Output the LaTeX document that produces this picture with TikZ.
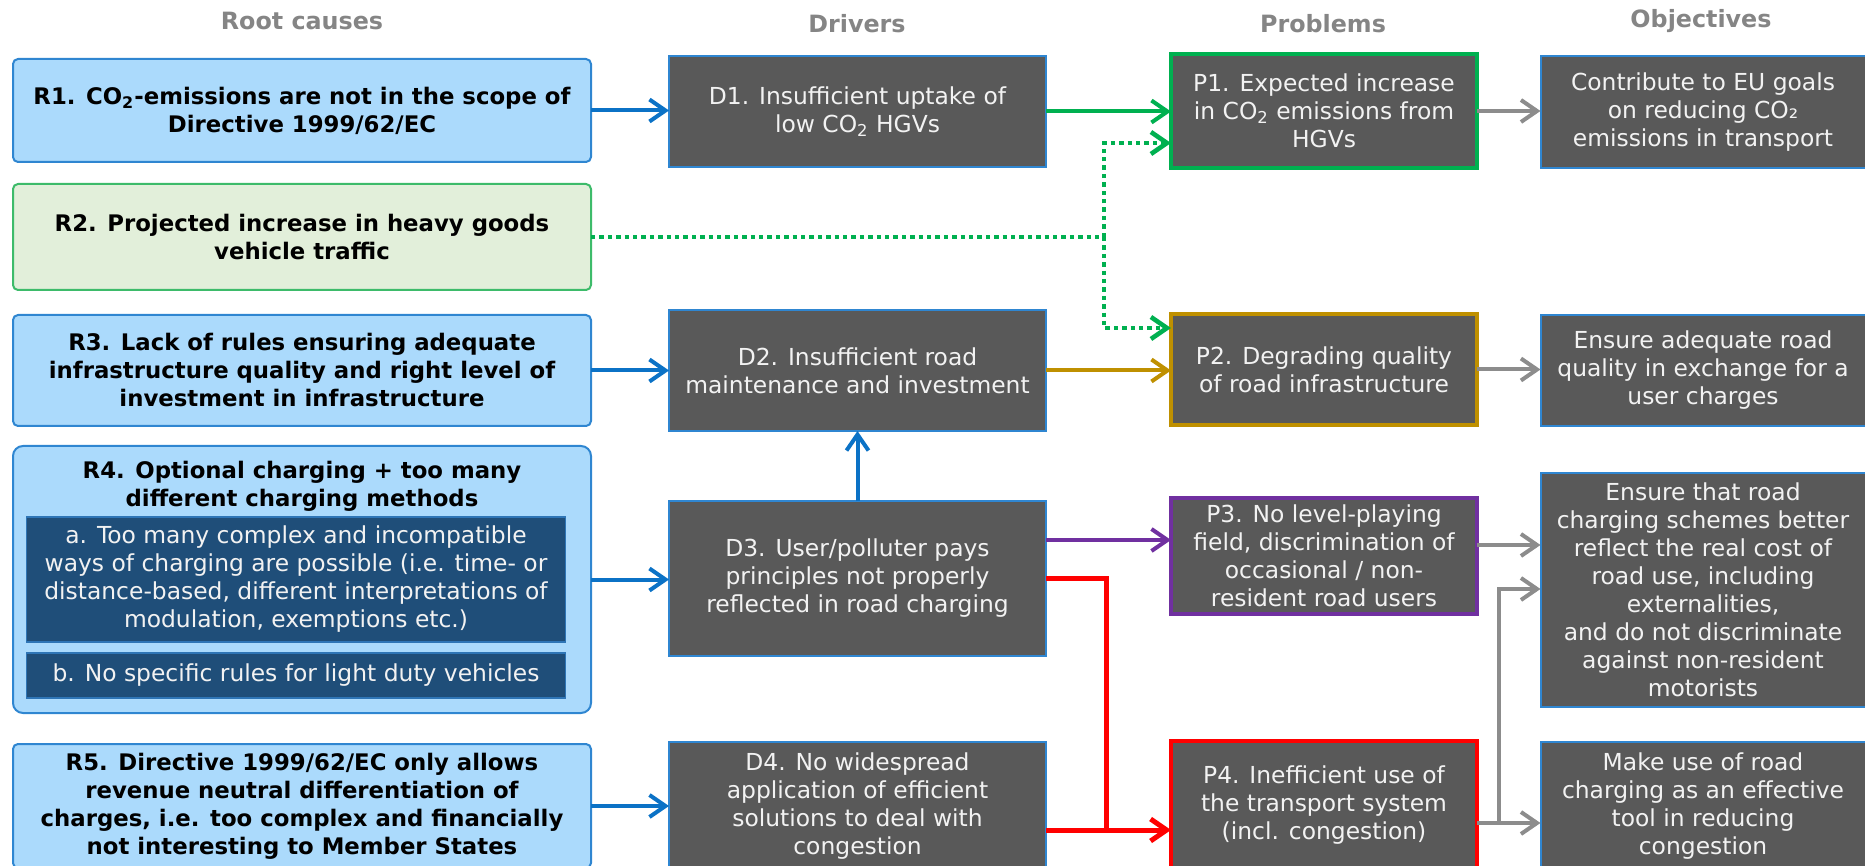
\documentclass[tikz,border=0pt]{standalone}
\usepackage{fontspec}
\setmainfont{DejaVu Sans}
\usetikzlibrary{
  arrows.meta,
  positioning,
  calc,
}
\definecolor{rootfill}{HTML}{ABDAFC}
\definecolor{rootline}{HTML}{2F86D1}
\definecolor{twofill}{HTML}{E2EFDA}
\definecolor{twoline}{HTML}{3DBB6A}
\definecolor{subfill}{HTML}{1F4E79}
\definecolor{subline}{HTML}{2E75B6}
\definecolor{boxfill}{HTML}{595959}
\definecolor{boxtext}{HTML}{F2F2F2}
\definecolor{arblue}{HTML}{0B72C6}
\definecolor{argreen}{HTML}{00B050}
\definecolor{argold}{HTML}{BF9000}
\definecolor{arpurple}{HTML}{7030A0}
\definecolor{arred}{HTML}{FF0000}
\definecolor{argrey}{HTML}{8C8C8C}
\definecolor{headgrey}{HTML}{858585}
\def\myrootw{289pt}
\def\mydrvw{188.5pt}
\def\myprbw{153pt}
\def\myobjw{162.5pt}
\def\mysubw{269.5pt}
\tikzset{
  every node/.style={
    font=\fontsize{11.7}{14}\selectfont
  },
  >={Straight Barb[length=8pt,width=11pt]},
  head/.style={
    font=\fontsize{11.9}{14}\selectfont\bfseries,
    text=headgrey
  },
  my box/.style={
    draw,
    inner sep=0pt,
    outer sep=0pt,
    align=center
  },
  root/.style={
    my box,
    fill=rootfill,
    draw=rootline,
    line width=1pt,
    rounded corners=2.5pt,
    minimum width=\myrootw,
    font=\fontsize{11.4}{14}\selectfont\bfseries
  },
  root title/.style={
    align=center,
    font=\fontsize{11.4}{14}\selectfont\bfseries
  },
  sub/.style={
    my box,
    fill=subfill,
    draw=subline,
    line width=0.8pt,
    text=boxtext,
    minimum width=\mysubw
  },
  driver/.style={
    my box,
    fill=boxfill,
    draw=rootline,
    line width=0.8pt,
    text=boxtext,
    minimum width=\mydrvw
  },
  problem/.style={
    my box,
    fill=boxfill,
    line width=2pt,
    text=boxtext,
    minimum width=\myprbw
  },
  objective/.style={
    my box,
    fill=boxfill,
    draw=rootline,
    line width=1pt,
    text=boxtext,
    minimum width=\myobjw
  },
  link/.style={
    line width=2pt
  },
  dotlink/.style={
    draw=argreen,
    line width=2.3pt,
    dash pattern=on 2.2pt off 2pt
  }
}
\begin{document}
\begin{tikzpicture}[x=0.5pt,y=-0.5pt]
\useasboundingbox (0,0) rectangle (1865,866);
\clip (0,0) rectangle (1865,866);
% column heads
\node[head] (hR) at (302,21)  {Root causes};
\node[head] (hD) at (857,24)  {Drivers};
\node[head] (hP) at (1323,24) {Problems};
\node[head] (hO) at (1701,21) {Objectives};
% root causes
\node[root,minimum height=51.5pt] (R1) at (302,110.5)
  {R1. CO\textsubscript{2}-emissions are not in the scope of\\Directive 1999/62/EC};
\node[root,fill=twofill,draw=twoline,minimum height=53pt] (R2) at (302,237)
  {R2. Projected increase in heavy goods\\vehicle traffic};
\node[root,minimum height=55.5pt] (R3) at (302,370.5)
  {R3. Lack of rules ensuring adequate\\infrastructure quality and right level of\\investment in infrastructure};
\node[root,rounded corners=5pt,minimum height=133.5pt] (R4) at (302,579.5) {};
\node[root title] (R4t) at (302,486.5) {R4. Optional charging + too many\\different charging methods};
\node[sub,minimum height=62.5pt] (R4a) at (296,579.5)
  {a. Too many complex and incompatible\\ways of charging are possible (i.e. time- or\\distance-based, different interpretations of\\modulation, exemptions etc.)};
\node[sub,minimum height=22.5pt] (R4b) at (296,675.5)
  {b. No specific rules for light duty vehicles};
\node[root,minimum height=62pt] (R5) at (302,806)
  {R5. Directive 1999/62/EC only allows\\revenue neutral differentiation of\\charges, i.e. too complex and financially\\not interesting to Member States};
% drivers
\node[driver,minimum height=55.5pt] (D1) at (857.5,111.5)
  {D1. Insufficient uptake of\\low CO\textsubscript{2} HGVs};
\node[driver,minimum height=60.5pt] (D2) at (857.5,370.5)
  {D2. Insufficient road\\maintenance and investment};
\node[driver,minimum height=77.5pt] (D3) at (857.5,578.5)
  {D3. User/polluter pays\\principles not properly\\reflected in road charging};
\node[driver,minimum height=64pt] (D4) at (857.5,806)
  {D4. No widespread\\application of efficient\\solutions to deal with\\congestion};
% problems
\node[problem,draw=argreen,minimum height=57pt] (P1) at (1324,111)
  {P1. Expected increase\\in CO\textsubscript{2} emissions from\\HGVs};
\node[problem,draw=argold,minimum height=55.5pt] (P2) at (1324,369.5)
  {P2. Degrading quality\\of road infrastructure};
\node[problem,draw=arpurple,line width=1.7pt,minimum height=58pt] (P3) at (1324,556)
  {P3. No level-playing\\field, discrimination of\\occasional / non-\\resident road users};
\node[problem,draw=arred,minimum height=64.5pt] (P4) at (1324,805.5)
  {P4. Inefficient use of\\the transport system\\(incl. congestion)};
% objectives
\node[objective,minimum height=56pt] (O1) at (1703,112)
  {Contribute to EU goals\\on reducing CO₂\\emissions in transport};
\node[objective,minimum height=55.5pt] (O2) at (1703,370.5)
  {Ensure adequate road\\quality in exchange for a\\user charges};
\node[objective,minimum height=117pt] (O3) at (1703,590)
  {Ensure that road\\charging schemes better\\reflect the real cost of\\road use, including\\externalities,\\and do not discriminate\\against non-resident\\motorists};
\node[objective,minimum height=64pt] (O4) at (1703,806)
  {Make use of road\\charging as an effective\\tool in reducing\\congestion};
% junctions
\coordinate (rj) at (1104,237);
\coordinate (jn) at (1106,830);
\coordinate (gj) at (1499,823);
% root causes -> drivers
\draw[link,arblue,->] (R1.east) -- (R1.east -| D1.west);
\draw[link,arblue,->] (R3.east) -- (R3.east -| D2.west);
\draw[link,arblue,->] (R4.east) -- (R4.east -| D3.west);
\draw[link,arblue,->] (R5.east) -- (R5.east -| D4.west);
\draw[link,arblue,->] (D3.north) -- (D2.south);
\draw[dotlink] (R2.east) -- (rj);
\draw[dotlink,->] (rj) |- (P1.west |- 0,143);
\draw[dotlink,->] (rj) |- (P2.west |- 0,328);
% drivers -> problems
\draw[link,argreen,->]  (D1.east) -- (D1.east -| P1.west);
\draw[link,argold,->]   (D2.east) -- (D2.east -| P2.west);
\draw[link,arpurple,->] (D3.east |- 0,540) -- (P3.west |- 0,540);
\draw[link,arred,line width=2.5pt] (D3.east) -| (jn);
\draw[link,arred,line width=2.5pt,->] (jn -| D4.east) -- (jn -| P4.west);
% problems -> objectives
\draw[link,argrey,->] (P1.east) -- (P1.east -| O1.west);
\draw[link,argrey,->] (P2.east) -- (P2.east -| O2.west);
\draw[link,argrey,->] (P3.east |- 0,545) -- (O3.west |- 0,545);
\draw[link,argrey,->] (gj -| P4.east) -- (gj -| O4.west);
\draw[link,argrey,->] (gj) |- (O3.west |- 0,589);
\end{tikzpicture}
\end{document}
